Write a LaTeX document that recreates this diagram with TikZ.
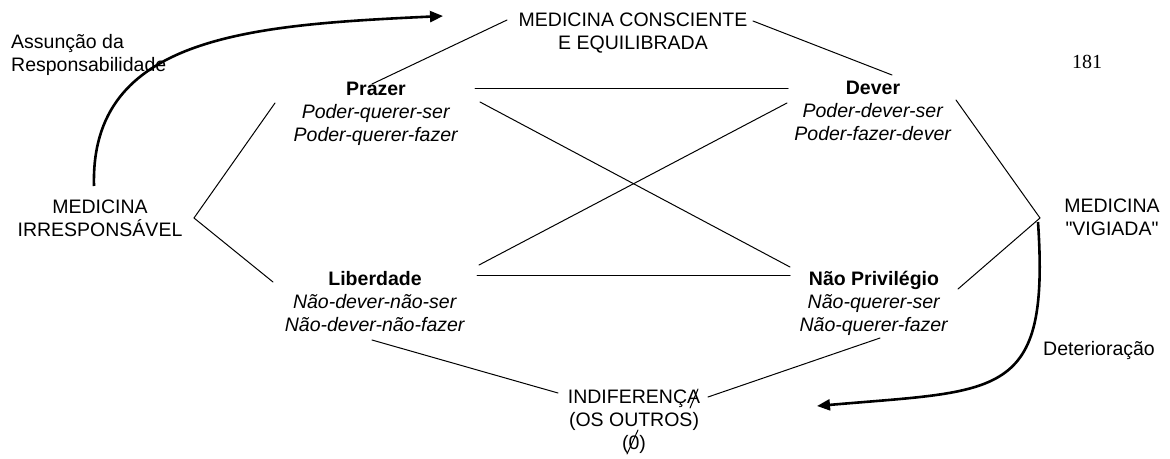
\documentclass[tikz,border=0pt]{standalone}
\usepackage{fontspec}
\setmainfont{Liberation Sans}[Ligatures=TeXOff]
\newfontfamily\serifnum{Liberation Serif}
\usetikzlibrary{arrows.meta}
\tikzset{
  lbl/.style={inner sep=0pt, anchor=base, font=\fontsize{19.5}{23}\selectfont},
  conn/.style={line width=1pt, line cap=round},
  bigarrow/.style={line width=2.6pt, -{Triangle[length=13pt,width=11pt]}}
}
\newcommand{\blk}[1]{\begin{tabular}[t]{@{}c@{}}#1\end{tabular}}
\newcommand{\blkl}[1]{\begin{tabular}[t]{@{}l@{}}#1\end{tabular}}
\begin{document}
\begin{tikzpicture}[x=1pt,y=-1pt]
\useasboundingbox (0,0) rectangle (1170,458);
% text nodes
\node[lbl] (top) at (633,26) {\blk{MEDICINA CONSCIENTE\\E EQUILIBRADA}};
\node[lbl] (prazer) at (376,95) {\blk{\textbf{Prazer}\\\textit{Poder-querer-ser}\\\textit{Poder-querer-fazer}}};
\node[lbl] (dever) at (873,94) {\blk{\textbf{Dever}\\\textit{Poder-dever-ser}\\\textit{Poder-fazer-dever}}};
\node[lbl] (liberdade) at (375,285) {\blk{\textbf{Liberdade}\\\textit{Não-dever-não-ser}\\\textit{Não-dever-não-fazer}}};
\node[lbl] (naopriv) at (874,285) {\blk{\textbf{Não Privilégio}\\\textit{Não-querer-ser}\\\textit{Não-querer-fazer}}};
\node[lbl] (irresp) at (100,213) {\blk{MEDICINA\\IRRESPONSÁVEL}};
\node[lbl] (vigiada) at (1112,212) {\blk{MEDICINA\\"VIGIADA"}};
\node[lbl] (indif) at (634,403) {\blk{INDIFERENÇA\\(OS OUTROS)\\(0)}};
\node[lbl, anchor=base west] (assun) at (11,48) {\blkl{Assunção da\\Responsabilidade}};
\node[lbl, anchor=base west] (deter) at (1043,355) {Deterioração};
\node[inner sep=0pt, anchor=base west, font=\serifnum\fontsize{20}{23}\selectfont] (page) at (1072,68) {181};
% slashes over the A and the 0
\coordinate (sa1) at (690,408); \coordinate (sa2) at (698,389);
\coordinate (sz1) at (627,454); \coordinate (sz2) at (638,430);
\draw[conn] (sa1) -- (sa2);
\draw[conn] (sz1) -- (sz2);
% connector end points
\coordinate (tl1) at (372,84);  \coordinate (tl2) at (507,20);
\coordinate (tr1) at (753,21);  \coordinate (tr2) at (892,75);
\coordinate (h1a) at (475,88);  \coordinate (h1b) at (788,88);
\coordinate (h2a) at (477,275); \coordinate (h2b) at (790,275);
\coordinate (d1a) at (480,102); \coordinate (d1b) at (790,267);
\coordinate (d2a) at (787,103); \coordinate (d2b) at (479,265);
\coordinate (la) at (275,103); \coordinate (lm) at (194,218); \coordinate (lb) at (273,282);
\coordinate (ra) at (956,100); \coordinate (rm) at (1040,218); \coordinate (rb) at (958,289);
\coordinate (bl1) at (372,340); \coordinate (bl2) at (558,393);
\coordinate (br1) at (880,338); \coordinate (br2) at (708,397);
\coordinate (a1s) at (94,186);  \coordinate (a1e) at (443,16);
\coordinate (a2s) at (1038,222); \coordinate (a2e) at (817,406);
% connectors
\draw[conn] (tl1) -- (tl2);
\draw[conn] (tr1) -- (tr2);
\draw[conn] (h1a) -- (h1b);
\draw[conn] (h2a) -- (h2b);
\draw[conn] (d1a) -- (d1b);
\draw[conn] (d2a) -- (d2b);
\draw[conn] (la) -- (lm) -- (lb);
\draw[conn] (ra) -- (rm) -- (rb);
\draw[conn] (bl1) -- (bl2);
\draw[conn] (br1) -- (br2);
% thick curved arrows
\draw[bigarrow] (a1s) .. controls (90,36) and (250,25) .. (a1e);
\draw[bigarrow] (a2s) .. controls (1050,400) and (1000,390) .. (a2e);
\end{tikzpicture}
\end{document}
